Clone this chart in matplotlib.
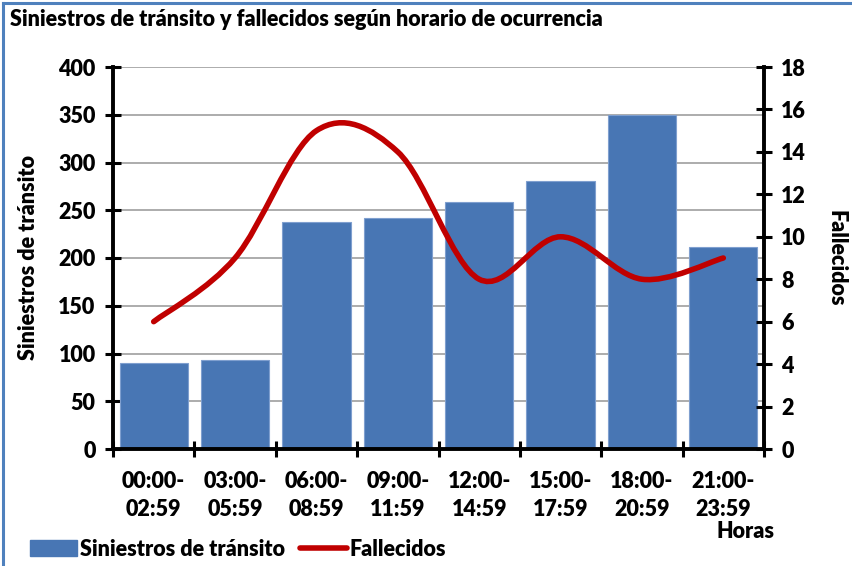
import numpy as np
import matplotlib.pyplot as plt
from matplotlib.path import Path
from matplotlib.patches import PathPatch
from matplotlib.lines import Line2D

# datos
horarios = ['00:00-\n02:59', '03:00-\n05:59', '06:00-\n08:59', '09:00-\n11:59',
            '12:00-\n14:59', '15:00-\n17:59', '18:00-\n20:59', '21:00-\n23:59']
siniestros = [90, 93, 238, 242, 259, 281, 350, 211]
fallecidos = [6, 9, 15, 14, 8, 10, 8, 9]

titulo = 'Siniestros de tránsito y fallecidos según horario de ocurrencia'
color_barra = '#4876b4'
color_linea = '#c00000'

PESO = 'heavy'
FS = 15.5

plt.rcParams['font.family'] = ['Lato', 'DejaVu Sans']
plt.rcParams['font.weight'] = PESO

fig = plt.figure(figsize=(8.52, 5.66), dpi=100)
ax = fig.add_axes([113 / 852, 1 - 449 / 566, (764 - 113) / 852, (449 - 67) / 566])

x = np.arange(len(horarios))
ax.bar(x, siniestros, width=0.84, color=color_barra, edgecolor='#7f9fcf',
       linewidth=0.8, zorder=2)
ax.set_xlim(-0.5, len(horarios) - 0.5)
ax.set_ylim(0, 400)
ax.set_yticks(np.arange(0, 401, 50))
ax.yaxis.grid(True, color='#a6a6a6', linewidth=1.3, zorder=0)
ax.set_axisbelow(True)

# ticks en los limites de categoria, etiquetas al centro
ax.set_xticks(np.arange(-0.5, len(horarios), 1.0))
ax.set_xticklabels([])
ax.set_xticks(x, minor=True)
ax.set_xticklabels(horarios, minor=True, fontsize=FS, fontweight=PESO,
                   linespacing=1.42)
ax.tick_params(axis='x', which='minor', length=0, pad=16)
ax.tick_params(axis='x', which='major', direction='inout', length=11, width=2.2)
ax.tick_params(axis='y', direction='inout', length=11, width=2.2, labelsize=FS, pad=7)
for lab in ax.get_yticklabels():
    lab.set_fontweight(PESO)

for s in ['top', 'right']:
    ax.spines[s].set_visible(False)
for s in ['left', 'bottom']:
    ax.spines[s].set_linewidth(2.8)

ax.set_ylabel('Siniestros de tránsito', fontsize=FS, fontweight=PESO, labelpad=14)

# eje secundario
ax2 = ax.twinx()
ax2.set_ylim(0, 18)
ax2.set_yticks(np.arange(0, 19, 2))
ax2.tick_params(axis='y', direction='inout', length=11, width=2.2, labelsize=FS, pad=7)
for lab in ax2.get_yticklabels():
    lab.set_fontweight(PESO)
for s in ['top', 'left', 'bottom']:
    ax2.spines[s].set_visible(False)
ax2.spines['right'].set_linewidth(2.8)
ax2.set_ylabel('Fallecidos', fontsize=FS, fontweight=PESO, rotation=-90,
               labelpad=29)

# linea suavizada (estilo Excel, bezier)
pts = np.column_stack([x, fallecidos]).astype(float)
verts = [tuple(pts[0])]
codes = [Path.MOVETO]
n = len(pts)
for i in range(n - 1):
    p0 = pts[i - 1] if i > 0 else pts[i]
    p1 = pts[i]
    p2 = pts[i + 1]
    p3 = pts[i + 2] if i + 2 < n else pts[i + 1]
    c1 = p1 + (p2 - p0) / 6
    c2 = p2 - (p3 - p1) / 6
    verts += [tuple(c1), tuple(c2), tuple(p2)]
    codes += [Path.CURVE4] * 3
ax2.add_patch(PathPatch(Path(verts, codes), facecolor='none', edgecolor=color_linea,
                        linewidth=4, capstyle='round', zorder=3))

fig.text(10 / 852, 1 - 20 / 566, titulo, fontsize=FS, fontweight=PESO,
         va='center', ha='left')
fig.text(745 / 852, 1 - 531 / 566, 'Horas', fontsize=FS, fontweight=PESO,
         va='center', ha='center')

# leyenda
h1 = plt.Rectangle((0, 0), 1, 1, color=color_barra)
h2 = Line2D([0], [0], color=color_linea, linewidth=4, solid_capstyle='round')
fig.legend([h1, h2], ['Siniestros de tránsito', 'Fallecidos'], ncol=2,
           loc='center left', bbox_to_anchor=(30 / 852, 1 - 549 / 566),
           frameon=False, handlelength=2.2, handletextpad=0.1,
           columnspacing=0.7, borderaxespad=0, borderpad=0,
           prop={'weight': PESO, 'size': FS})

# borde
fig.add_artist(Line2D([3 / 852, 3 / 852], [0, 1 - 3 / 566], color='#4f81bd',
                      linewidth=2.2, transform=fig.transFigure))
fig.add_artist(Line2D([3 / 852, 1], [1 - 3 / 566, 1 - 3 / 566], color='#4f81bd',
                      linewidth=2.2, transform=fig.transFigure))

fig.savefig('out.png', dpi=100, facecolor='white')
